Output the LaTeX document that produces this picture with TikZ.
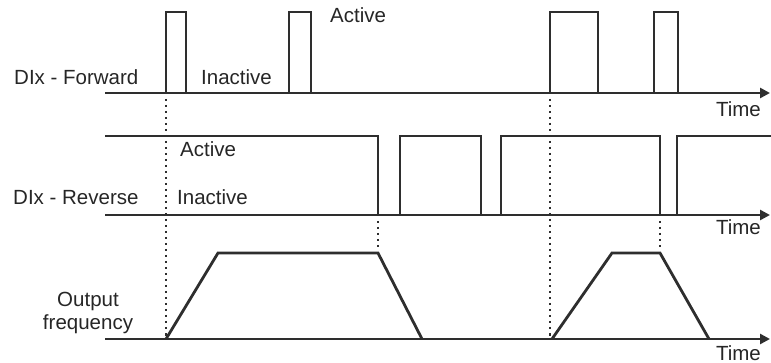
\documentclass[tikz,border=0pt]{standalone}
\usepackage{fontspec}
\setmainfont{Liberation Sans}
\usetikzlibrary{arrows.meta}
\definecolor{ink}{HTML}{2E2E2E}
\definecolor{txt}{HTML}{262626}
\begin{document}
\begin{tikzpicture}[x=1pt,y=-1pt,
  wave/.style={draw=ink,line width=2.8pt,line join=miter},
  axis/.style={draw=ink,line width=2.8pt,-{Triangle[length=10pt,width=10pt]}},
  guide/.style={draw=ink,line width=2.5pt,dash pattern=on 2.5pt off 3.5pt},
  lbl/.style={font=\fontsize{20.5}{24}\selectfont,text=txt,inner sep=0pt}]
\useasboundingbox (0,0) rectangle (771,363);
% axes
\draw[axis] (105,93) -- (770,93);
\draw[axis] (105,215) -- (770,215);
\draw[axis] (105,339) -- (770,339);
% forward pulses
\draw[wave] (166,93) -- (166,12) -- (186,12) -- (186,93);
\draw[wave] (289,93) -- (289,12) -- (311,12) -- (311,93);
\draw[wave] (550,93) -- (550,12) -- (598,12) -- (598,93);
\draw[wave] (654,93) -- (654,12) -- (678,12) -- (678,93);
% reverse
\draw[wave] (105,136) -- (378,136) -- (378,215);
\draw[wave] (400,215) -- (400,136) -- (481,136) -- (481,215);
\draw[wave] (501,215) -- (501,136) -- (660,136) -- (660,215);
\draw[wave] (677,215) -- (677,136) -- (771,136);
% output frequency
\draw[wave] (166,339) -- (218,253) -- (378,253) -- (422,339);
\draw[wave] (552,339) -- (612,253) -- (660,253) -- (709,339);
% guides
\draw[guide] (166,99) -- (166,336);
\draw[guide] (550,99) -- (550,336);
\draw[guide] (378,221) -- (378,250);
\draw[guide] (660,221) -- (660,250);
% labels
\node[lbl,anchor=base west] (fwd) at (14,85) {DIx - Forward};
\node[lbl,anchor=base west] (fin) at (201,85) {Inactive};
\node[lbl,anchor=base west] (fac) at (330,23) {Active};
\node[lbl,anchor=base east] (t1) at (761,117) {Time};
\node[lbl,anchor=base west] (rac) at (180,157) {Active};
\node[lbl,anchor=base west] (rev) at (13,205) {DIx - Reverse};
\node[lbl,anchor=base west] (rin) at (177,205) {Inactive};
\node[lbl,anchor=base east] (t2) at (761,235) {Time};
\node[lbl,anchor=base] (out) at (88,307) {Output};
\node[lbl,anchor=base] (frq) at (88,330) {frequency};
\node[lbl,anchor=base east] (t3) at (761,360) {Time};
\end{tikzpicture}
\end{document}
